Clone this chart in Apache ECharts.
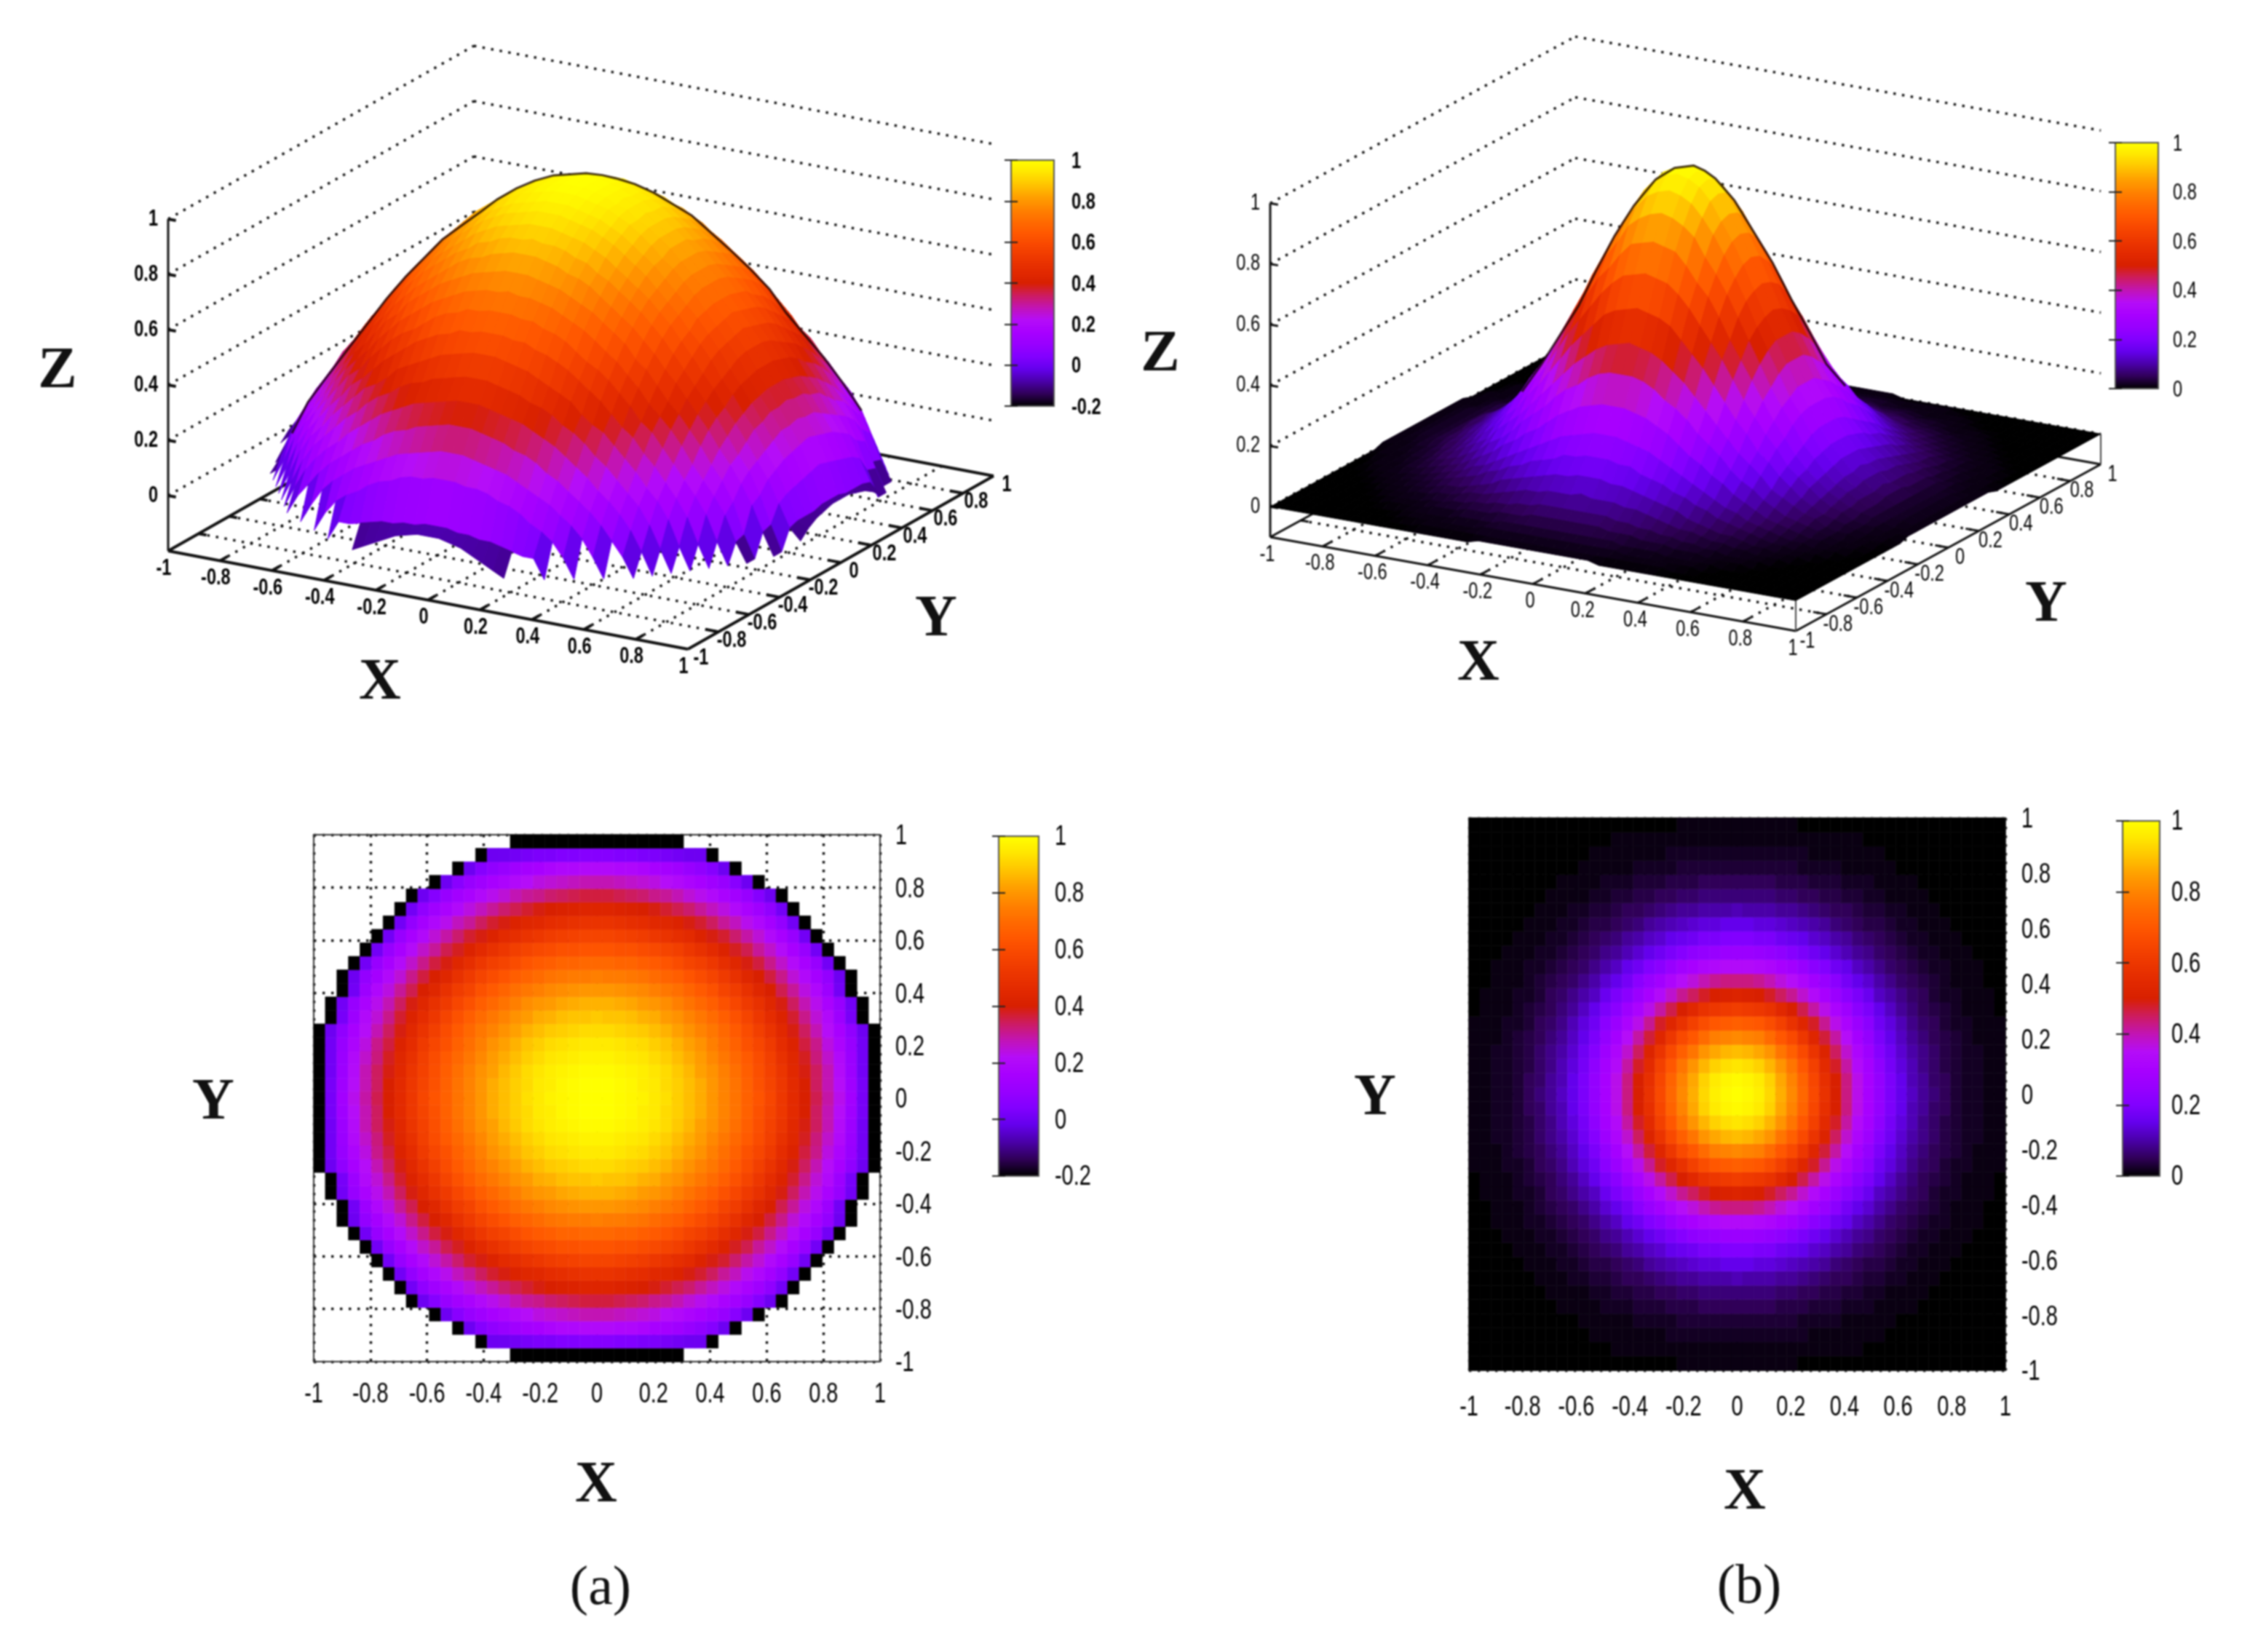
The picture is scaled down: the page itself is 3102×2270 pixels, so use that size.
<!DOCTYPE html>
<html><head><meta charset="utf-8"><style>html,body{margin:0;padding:0;background:#fff}#c{width:3102px;height:2270px;filter:blur(1.1px)}</style>
<script src="https://cdn.jsdelivr.net/npm/echarts@6/dist/echarts.min.js"></script></head>
<body><div id="c"></div><script>
// quarter tables: row j (0 = centre, 19 = outer y), column i (0 = centre, 24 = outer x)
const domeRows = [
[1,1,.99,.98,.97,.95,.93,.9,.87,.84,.8,.76,.72,.67,.63,.58,.52,.46,.4,.35,.29,.23,.14,.02,-.2],
[1,1,.99,.98,.96,.95,.92,.9,.87,.84,.8,.76,.72,.67,.62,.57,.52,.46,.4,.34,.28,.22,.13,.02,-.2],
[.99,.99,.98,.97,.96,.94,.92,.89,.86,.82,.79,.75,.71,.66,.61,.56,.51,.45,.39,.34,.28,.21,.12,.01,-.2],
[.97,.97,.96,.95,.94,.92,.9,.87,.84,.81,.77,.73,.69,.65,.6,.55,.49,.44,.38,.32,.26,.2,.11,.01,-.2],
[.95,.95,.94,.93,.92,.9,.88,.85,.82,.79,.75,.71,.67,.62,.58,.53,.47,.42,.36,.31,.24,.18,.1,.01,-.2],
[.92,.92,.91,.9,.89,.87,.85,.82,.79,.76,.73,.69,.65,.6,.55,.5,.45,.39,.34,.28,.22,.16,.08,0,-.2],
[.89,.88,.88,.87,.85,.84,.81,.79,.76,.73,.7,.66,.62,.57,.52,.47,.42,.37,.31,.25,.2,.12,.02,-.2,null],
[.85,.85,.84,.83,.81,.8,.78,.75,.72,.69,.66,.62,.58,.53,.49,.44,.39,.34,.28,.23,.17,.1,.01,-.2,null],
[.8,.8,.79,.78,.77,.75,.73,.71,.68,.65,.62,.57,.54,.49,.44,.4,.35,.3,.24,.19,.12,.01,-.2,null,null],
[.75,.74,.74,.73,.72,.7,.68,.66,.63,.6,.57,.53,.49,.44,.4,.36,.31,.25,.2,.15,.09,0,-.2,null,null],
[.69,.69,.68,.68,.66,.65,.63,.6,.57,.55,.52,.48,.44,.39,.36,.31,.26,.21,.16,.1,.01,-.2,null,null,null],
[.63,.63,.62,.62,.6,.59,.57,.55,.52,.49,.46,.42,.38,.35,.3,.26,.21,.16,.1,.01,-.2,null,null,null,null],
[.57,.57,.56,.55,.54,.52,.5,.48,.46,.42,.39,.37,.33,.29,.25,.2,.16,.1,.01,-.2,null,null,null,null,null],
[.5,.5,.49,.48,.47,.45,.44,.42,.39,.37,.34,.3,.27,.23,.19,.15,.09,.01,-.2,null,null,null,null,null,null],
[.43,.43,.42,.41,.4,.39,.37,.35,.33,.3,.27,.24,.2,.17,.13,.08,.01,-.2,null,null,null,null,null,null,null],
[.36,.36,.35,.34,.33,.31,.3,.28,.25,.23,.2,.17,.14,.1,.05,0,-.2,null,null,null,null,null,null,null,null],
[.28,.28,.27,.26,.25,.24,.22,.2,.18,.16,.13,.1,.06,0,-.2,null,null,null,null,null,null,null,null,null,null],
[.2,.2,.19,.19,.18,.16,.15,.13,.1,.08,.05,0,-.2,null,null,null,null,null,null,null,null,null,null,null,null],
[.05,.05,.04,.04,.03,.03,.02,.01,0,0,-.2,null,null,null,null,null,null,null,null,null,null,null,null,null,null],
[-.2,-.2,-.2,-.2,-.2,-.2,-.2,-.2,null,null,null,null,null,null,null,null,null,null,null,null,null,null,null,null,null]
];
const bumpRows = [
[1,.99,.97,.93,.87,.81,.74,.66,.58,.5,.43,.36,.3,.24,.19,.15,.12,.09,.07,.05,.03,.02,.02,.01,.01],
[.99,.98,.96,.92,.86,.8,.73,.65,.57,.5,.43,.36,.3,.24,.19,.15,.11,.09,.06,.05,.03,.02,.02,.01,.01],
[.95,.94,.92,.88,.83,.77,.7,.63,.55,.48,.41,.34,.29,.23,.18,.14,.11,.08,.06,.04,.03,.02,.02,.01,.01],
[.89,.88,.86,.83,.77,.72,.66,.59,.52,.45,.38,.32,.27,.21,.17,.13,.1,.08,.06,.04,.03,.02,.02,.01,.01],
[.81,.8,.79,.75,.7,.66,.6,.53,.47,.41,.35,.29,.24,.19,.15,.12,.09,.07,.05,.04,.03,.02,.01,.01,.01],
[.72,.71,.7,.67,.63,.58,.53,.48,.42,.36,.31,.26,.22,.17,.14,.11,.08,.06,.05,.03,.02,.02,.01,.01,.01],
[.62,.61,.6,.58,.54,.5,.46,.41,.36,.31,.27,.22,.19,.15,.12,.09,.07,.05,.04,.03,.02,.01,.01,.01,0],
[.52,.51,.5,.48,.45,.42,.38,.34,.3,.26,.22,.19,.16,.12,.1,.08,.06,.05,.03,.02,.02,.01,.01,.01,0],
[.43,.43,.42,.4,.37,.35,.32,.28,.25,.22,.18,.15,.13,.1,.08,.06,.05,.04,.03,.02,.01,.01,.01,0,0],
[.34,.34,.33,.32,.3,.28,.25,.22,.2,.17,.15,.12,.1,.08,.06,.05,.04,.03,.02,.02,.01,.01,.01,0,0],
[.26,.26,.25,.24,.23,.21,.19,.17,.15,.13,.11,.09,.08,.06,.05,.04,.03,.02,.02,.01,.01,.01,0,0,0],
[.2,.2,.19,.19,.17,.16,.15,.13,.12,.1,.09,.07,.06,.05,.04,.03,.02,.02,.01,.01,.01,0,0,0,0],
[.15,.15,.14,.14,.13,.12,.11,.1,.09,.07,.06,.05,.04,.04,.03,.02,.02,.01,.01,.01,0,0,0,0,0],
[.11,.1,.1,.1,.09,.09,.08,.07,.06,.05,.05,.04,.03,.03,.02,.02,.01,.01,.01,0,0,0,0,0,0],
[.07,.07,.07,.07,.06,.06,.05,.05,.04,.04,.03,.03,.02,.02,.01,.01,.01,.01,0,0,0,0,0,0,0],
[.05,.05,.05,.05,.04,.04,.04,.03,.03,.03,.02,.02,.02,.01,.01,.01,.01,0,0,0,0,0,0,0,0],
[.03,.03,.03,.03,.03,.03,.02,.02,.02,.02,.01,.01,.01,.01,.01,0,0,0,0,0,0,0,0,0,0],
[.02,.02,.02,.02,.02,.02,.02,.01,.01,.01,.01,.01,.01,.01,0,0,0,0,0,0,0,0,0,0,0],
[.01,.01,.01,.01,.01,.01,.01,.01,.01,.01,.01,.01,0,0,0,0,0,0,0,0,0,0,0,0,0],
[.01,.01,.01,.01,.01,.01,0,0,0,0,0,0,0,0,0,0,0,0,0,0,0,0,0,0,0]
];
const xyTicks = [-1,-.8,-.6,-.4,-.2,0,.2,.4,.6,.8,1];
const zTicks = [0,.2,.4,.6,.8,1];
const barTicksDome = [-.2,0,.2,.4,.6,.8,1];
const barTicksBump = [0,.2,.4,.6,.8,1];
// heights of the black rim of the dome (outermost filled cells)
const domeTopEdge = [.03,.03,.02,.01,-.01,-.03,-.05,-.07];
const domeSideEdge = [.03,.03,.02,.01,-.01,-.04];
const domeStairEdge = -.07;

const paletteStops = ['#000000','#300058','#4A00A8','#6400EC','#8200FF','#9800FF','#A800FF','#B50DF8','#C214B4','#CD1C5F','#D82000','#E32A00','#ED3700','#F74600','#FF5700','#FF6B00','#FF8300','#FFA000','#FFC400','#FFE600','#FFFF00'];
const sans = '"Liberation Sans",sans-serif';
const serif = '"Liberation Serif",serif';

const cellsOf = rows => { const out = [];
  for (let j = -19; j <= 19; j++) for (let i = -24; i <= 24; i++) {
    const z = rows[Math.abs(j)][Math.abs(i)];
    if (z !== null) out.push([i * 2 / 49, j * 2 / 39, z]);
  } return out; };
const domeHeight = (i, j) => { const a=Math.abs(i), b=Math.abs(j), z=domeRows[b][a];
  if (z===null) return null; if (z>-.1) return z;
  return b===19 ? domeTopEdge[a] : (a===24 ? domeSideEdge[b] : domeStairEdge); };
const bumpHeight = (i, j) => bumpRows[Math.abs(j)][Math.abs(i)];
const quadsOf = (rows, h) => { const out = [];
  const c = (i, j) => rows[Math.abs(j)][Math.abs(i)];
  for (let j = -19; j < 19; j++) for (let i = -24; i < 24; i++) {
    const a = h(i, j), b = h(i + 1, j), d = h(i, j + 1), e = h(i + 1, j + 1);
    if (a === null || b === null || d === null || e === null) continue;
    const m = (c(i, j) + c(i + 1, j) + c(i, j + 1) + c(i + 1, j + 1)) / 4;
    out.push([i / 24, j / 19, m, (i + 1) / 24, (j + 1) / 19, a, b, d, e]);
  }
  out.sort((p, q) => (p[0] - p[1]) - (q[0] - q[1]));
  return out; };
const outlineOf = (h, proj, zFloor, bin) => { const best = {};
  for (let j = -19; j <= 19; j++) for (let i = -24; i <= 24; i++) {
    const z = h(i, j); if (z === null || z < zFloor) continue;
    const p = proj(i / 24, j / 19, z), k = Math.round(p[0] / bin);
    if (!best[k] || p[1] < best[k][1]) best[k] = p;
  }
  return Object.keys(best).map(Number).sort((a, b) => a - b).map(k => best[k]); };

// oblique view of each 3-D box: page position of the corner x=-1,y=-1,z=zmin and its edge vectors
const viewA = {o:[231,757], ex:[714,135], ey:[420,-238], ez:-380, zmin:-.2};
const viewB = {o:[1745,738], ex:[722,129], ey:[419,-229], ez:-417, zmin:-.1};
const projector = v => (x, y, z) => [
  v.o[0] + (x + 1) / 2 * v.ex[0] + (y + 1) / 2 * v.ey[0],
  v.o[1] + (x + 1) / 2 * v.ex[1] + (y + 1) / 2 * v.ey[1] + (z - v.zmin) * v.ez];
const flat = (x, y) => [x, y];
const base = {type:'custom', coordinateSystem:'cartesian2d', xAxisIndex:0, yAxisIndex:0, silent:true, animation:false, clip:false, progressive:0, encode:{x:0,y:1}};

const segSeries = (proj, data, lineStyle) => Object.assign({}, base, {data,
  renderItem:(p, api) => {
    const a = api.coord(proj(api.value(0), api.value(1), api.value(2)));
    const b = api.coord(proj(api.value(3), api.value(4), api.value(5)));
    return {type:'line', shape:{x1:a[0],y1:a[1],x2:b[0],y2:b[1]}, style:Object.assign({fill:null}, lineStyle)};
  }});
const labelSeries = (proj, data, font, o) => Object.assign({}, base, {data,
  xAxisIndex:o.xa||0, yAxisIndex:o.ya||0,
  renderItem:(p, api) => {
    const a = api.coord(proj(api.value(0), api.value(1), api.value(2)));
    return {type:'text', x:a[0]+o.dx, y:a[1]+o.dy, scaleX:o.sx||.76,
      style:{x:0, y:0, text:String(api.value(3)), font, fill:'#000', align:o.align||'center', verticalAlign:'middle'}};
  }});
const surfaceSeries = (proj, data) => Object.assign({}, base, {data,
  renderItem:(p, api) => {
    const x0=api.value(0), y0=api.value(1), x1=api.value(3), y1=api.value(4);
    const pts=[proj(x0,y0,api.value(5)),proj(x1,y0,api.value(6)),proj(x1,y1,api.value(8)),proj(x0,y1,api.value(7))].map(q=>api.coord(q));
    const col=api.visual('color');
    return {type:'polygon', shape:{points:pts}, style:{fill:col, stroke:col, lineWidth:1}};
  }});
const heatSeries = (data, axis) => Object.assign({}, base, {data, xAxisIndex:axis, yAxisIndex:axis, clip:true,
  renderItem:(p, api) => {
    const x=api.value(0), y=api.value(1), hx=1/49, hy=1/39;
    const a=api.coord([x-hx,y+hy]), b=api.coord([x+hx,y-hy]);
    const col=api.visual('color');
    return {type:'rect', shape:{x:a[0],y:a[1],width:b[0]-a[0],height:b[1]-a[1]}, style:{fill:col, stroke:col, lineWidth:.6}};
  }});
const outlineSeries = data => ({type:'line', xAxisIndex:0, yAxisIndex:0, silent:true, animation:false, showSymbol:false, data,
  lineStyle:{color:'#160408',width:3,opacity:.8}, clip:false});

const dotted = {stroke:'#111', lineWidth:3.4, lineDash:[3.4,8.6]};
function box(view, opt) {
  const proj = projector(view), zb = view.zmin, out = [];
  const wall = [], floor = [], axes = [], ticks = [];
  zTicks.forEach(z => { wall.push([-1,-1,z,-1,1,z]); wall.push([-1,1,z,1,1,z]); });
  xyTicks.slice(1,-1).forEach(t => { floor.push([t,-1,zb,t,1,zb]); floor.push([-1,t,zb,1,t,zb]); });
  axes.push([-1,-1,zb,1,-1,zb],[1,-1,zb,1,1,zb],[-1,-1,zb,-1,1,zb],[-1,1,zb,1,1,zb]);
  xyTicks.slice(1,-1).forEach(t => { ticks.push([t,-1,zb,t,-.95,zb]); ticks.push([1,t,zb,.95,t,zb]); ticks.push([-1,t,zb,-.97,t,zb]); });
  const zaxis = [[-1,-1,zb,-1,-1,1]];
  zTicks.forEach(z => ticks.push([-1,-1,z,-.97,-1,z]));
  out.push(segSeries(proj, wall, dotted), segSeries(proj, floor, dotted));
  out.push(segSeries(proj, axes, {stroke:'#111', lineWidth:opt.axisWidth}));
  out.push(segSeries(proj, ticks, {stroke:'#111', lineWidth:opt.axisWidth}));
  out.push(segSeries(proj, zaxis, {stroke:'#111', lineWidth:3}));
  if (opt.corner) out.push(segSeries(proj, [[1,-1,zb,1,-1,0],[1,1,zb,1,1,0]], {stroke:'#444', lineWidth:2}));
  out.push(labelSeries(proj, xyTicks.map(t=>[t,-1,zb,t]), opt.font, {dx:opt.xOff[0], dy:opt.xOff[1]}));
  out.push(labelSeries(proj, xyTicks.map(t=>[1,t,zb,t]), opt.font, {dx:opt.yOff[0], dy:opt.yOff[1]}));
  out.push(labelSeries(proj, zTicks.map(t=>[-1,-1,t,t]), opt.font, {dx:-14, dy:0, align:'right'}));
  return out;
}

const series = [];
const pA = projector(viewA), pB = projector(viewB);
series.push(...box(viewA,{axisWidth:4,font:'bold 31px '+sans,xOff:[-6,24],yOff:[18,12]}));
const iA = series.push(surfaceSeries(pA, quadsOf(domeRows, domeHeight)))-1;
series.push(outlineSeries(outlineOf(domeHeight, pA, .05, 26)));
series.push(...box(viewB,{axisWidth:3,corner:true,font:'31px '+sans,xOff:[-4,24],yOff:[16,14]}));
const iB = series.push(surfaceSeries(pB, quadsOf(bumpRows, bumpHeight)))-1;
series.push(outlineSeries(outlineOf(bumpHeight, pB, .2, 26)));
const iHA = series.push(heatSeries(cellsOf(domeRows), 1))-1;
const iHB = series.push(heatSeries(cellsOf(bumpRows), 2))-1;

const rect = (l,t,r,b)=>({left:l,top:t,width:r-l,height:b-t});
const grids = [
 {left:0,top:0,width:3102,height:2270,show:false},
 Object.assign({show:true,borderColor:'#333',borderWidth:2,z:1},rect(431,1147,1209,1871)),
 Object.assign({show:true,borderColor:'#333',borderWidth:2,z:1},rect(2018,1124,2755,1883))
];
const heatFont = '38px '+sans;
series.push(labelSeries(flat, xyTicks.map(t=>[t,-1,0,t]), heatFont, {xa:1,ya:1,dx:0,dy:46}));
series.push(labelSeries(flat, xyTicks.map(t=>[1,t,0,t]), heatFont, {xa:1,ya:1,dx:21,dy:3,align:'left'}));
series.push(labelSeries(flat, xyTicks.map(t=>[t,-1,0,t]), heatFont, {xa:2,ya:2,dx:0,dy:52}));
series.push(labelSeries(flat, xyTicks.map(t=>[1,t,0,t]), heatFont, {xa:2,ya:2,dx:22,dy:3,align:'left'}));

const bars = [
 {box:[1389,220,1448,558],min:-.2,max:1,s:iA,ticks:barTicksDome,font:'bold 31px '+sans,gap:24},
 {box:[2906,196,2965,534],min:0,max:1,s:iB,ticks:barTicksBump,font:'31px '+sans,gap:20},
 {box:[1372,1149,1427,1616],min:-.2,max:1,s:iHA,ticks:barTicksDome,font:heatFont,gap:22},
 {box:[2916,1128,2967,1616],min:0,max:1,s:iHB,ticks:barTicksBump,font:heatFont,gap:16}
];
const xAxes = [
 {type:'value',min:0,max:3102,show:false,gridIndex:0},
 ...[1,2].map(g=>({type:'value',gridIndex:g,min:-1,max:1,interval:.2,position:'bottom',axisLine:{show:false},
   axisTick:{show:false},axisLabel:{show:false},splitLine:{show:true,lineStyle:{color:'#111',type:[3.4,8.6],width:3.4}}}))
];
const yAxes = [
 {type:'value',min:0,max:2270,inverse:true,show:false,gridIndex:0},
 ...[1,2].map(g=>({type:'value',gridIndex:g,min:-1,max:1,interval:.2,position:'right',axisLine:{show:false},
   axisTick:{show:false},axisLabel:{show:false},splitLine:{show:true,lineStyle:{color:'#111',type:[3.4,8.6],width:3.4}}}))
];
const visualMaps = [];
bars.forEach((b,k)=>{
  const g = grids.push(Object.assign({show:true,backgroundColor:'transparent',borderColor:'#555',borderWidth:2,z:10},rect(b.box[0],b.box[1],b.box[2],b.box[3])))-1;
  const xa = xAxes.push({type:'value',gridIndex:g,min:0,max:1,show:false})-1;
  const tickAxis = pos => ({type:'value',gridIndex:g,min:b.min,max:b.max,interval:.2,position:pos,z:11,axisLine:{show:false},
    axisTick:{show:true,inside:true,length:9,lineStyle:{color:'#222',width:2}},splitLine:{show:false},axisLabel:{show:false}});
  const ya = yAxes.push(tickAxis('right'))-1;
  yAxes.push(tickAxis('left'));
  series.push(labelSeries(flat, b.ticks.map(t=>[1,t,0,t]), b.font, {xa,ya,dx:b.gap,dy:2,align:'left'}));
  visualMaps.push({type:'continuous',min:b.min,max:b.max,dimension:2,seriesIndex:[b.s],calculable:false,hoverLink:false,realtime:false,
    inRange:{color:paletteStops},left:b.box[0],top:b.box[1],itemWidth:b.box[2]-b.box[0],itemHeight:b.box[3]-b.box[1],padding:0,text:null,borderWidth:0,z:4});
});
// axis titles and captions
const titles = [['Z',79,511],['X',522,939],['Y',1286,852],['Z',1594,488],['X',2031,913],['Y',2811,832],['X',819,2042],['Y',293,1516],['X',2397,2052],['Y',1889,1510]];
const captions = [['(a)',825,2184],['(b)',2403,2182]];
const graphic = [
 ...titles.map(t=>({type:'text',x:t[1],y:t[2],style:{text:t[0],font:'bold 80px '+serif,fill:'#111',textAlign:'center',textVerticalAlign:'middle'}})),
 ...captions.map(t=>({type:'text',x:t[1],y:t[2],style:{text:t[0],font:'76px '+serif,fill:'#111',textAlign:'center',textVerticalAlign:'middle'}}))
];
const chart = echarts.init(document.getElementById('c'),null,{renderer:'canvas',width:3102,height:2270});
chart.setOption({backgroundColor:'#fff',animation:false,grid:grids,xAxis:xAxes,yAxis:yAxes,visualMap:visualMaps,series,graphic});
</script></body></html>
